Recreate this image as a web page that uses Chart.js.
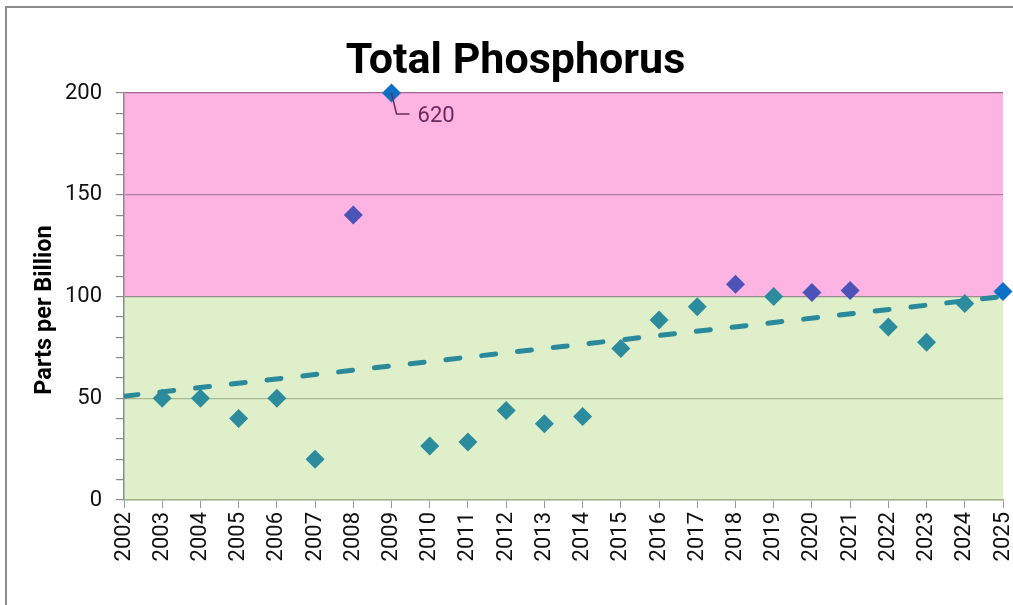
<!DOCTYPE html>
<html>
<head>
<meta charset="utf-8">
<script src="https://cdn.jsdelivr.net/npm/chart.js@4"></script>
<style>
    html, body { margin: 0; padding: 0; background: #fff; overflow: hidden; }
    #wrap { position: relative; width: 1013px; height: 605px; }
    #frame { position: absolute; left: 5px; top: 6px; right: -10px; bottom: -10px; border-left: 2px solid #8c8c8c; border-top: 2px solid #8c8c8c; }
    canvas { position: absolute; left: 0; top: 0; }
</style>
</head>
<body>
<div id="wrap">
    <div id="frame"></div>
    <canvas id="tpChart" width="1013" height="605"></canvas>
</div>
<script>
// ============================================
// DATA
// ============================================
const years = [2003, 2004, 2005, 2006, 2007, 2008, 2009, 2010, 2011, 2012, 2013, 2014,
               2015, 2016, 2017, 2018, 2019, 2020, 2021, 2022, 2023, 2024, 2025];
const phosphorus = [50, 50, 40, 50, 20, 140, 620, 26.5, 28.5, 44, 37.5, 41,
                    74.5, 88.5, 95, 106, 100, 102, 103, 85, 77.5, 96.5, 102.5];
const highlightYears = [2009, 2025];

// trend line end points
const trendYears = [2002, 2025];
const trendValues = [51, 100];

const yMax = 200;
const limit = 100;

// ============================================
// COLOURS
// ============================================
const TEAL = '#2c8c9e';
const PURPLE = '#4b52b8';
const BLUE = '#0c70c4';

function pointColor(year, v) {
    if (highlightYears.includes(year)) return BLUE;
    return v > limit ? PURPLE : TEAL;
}

// ============================================
// PLUGIN: bands, label, axis title
// ============================================
const bandsPlugin = {
    id: 'bands',
    beforeDraw(chart) {
        const { ctx, chartArea: a, scales: { y } } = chart;
        const yTop = y.getPixelForValue(yMax);
        const yMid = y.getPixelForValue(limit);
        const yBot = y.getPixelForValue(0);
        ctx.save();
        ctx.fillStyle = '#fdb4e3';
        ctx.fillRect(a.left, yTop, a.right - a.left, yMid - yTop);
        ctx.fillStyle = '#deefca';
        ctx.fillRect(a.left, yMid, a.right - a.left, yBot - yMid);
        ctx.restore();
    },
    afterDraw(chart) {
        const { ctx, scales: { x, y } } = chart;

        // off-scale value label
        phosphorus.forEach((v, i) => {
            if (v <= yMax) return;
            const px = x.getPixelForValue(years[i]);
            const py = y.getPixelForValue(yMax);
            ctx.save();
            ctx.strokeStyle = '#6a2b5f';
            ctx.lineWidth = 1.5;
            ctx.beginPath();
            ctx.moveTo(px, py);
            ctx.lineTo(px + 5, py + 21);
            ctx.lineTo(px + 18, py + 21);
            ctx.stroke();
            ctx.fillStyle = '#6a2b5f';
            ctx.font = '22px Roboto';
            ctx.textBaseline = 'middle';
            ctx.fillText(String(v), px + 26, py + 23);
            ctx.restore();
        });

        // y axis title
        ctx.save();
        ctx.translate(45, 310);
        ctx.rotate(-Math.PI / 2);
        ctx.font = 'bold 23.5px Roboto';
        ctx.fillStyle = '#000';
        ctx.textAlign = 'center';
        ctx.textBaseline = 'middle';
        ctx.fillText('Parts per Billion', 0, 0);
        ctx.restore();
    }
};

// ============================================
// CHART
// ============================================
const points = years.map((yr, i) => ({ x: yr, y: Math.min(phosphorus[i], yMax) }));
const colors = years.map((yr, i) => pointColor(yr, phosphorus[i]));
const trend = trendYears.map((yr, i) => ({ x: yr, y: trendValues[i] }));

new Chart(document.getElementById('tpChart'), {
    type: 'scatter',
    data: {
        datasets: [
            {
                label: 'Trend',
                data: trend,
                showLine: true,
                borderColor: '#2a899b',
                borderWidth: 5,
                borderDash: [14, 22],
                borderCapStyle: 'round',
                pointRadius: 0,
                order: 0,
            },
            {
                label: 'Total Phosphorus',
                data: points,
                pointStyle: 'rectRot',
                pointRadius: 9.5,
                pointBorderWidth: 0,
                backgroundColor: colors,
                pointBackgroundColor: colors,
                order: 1,
                clip: false,
            }
        ]
    },
    options: {
        responsive: false,
        animation: false,
        layout: { padding: { left: 28, right: 10, top: 0, bottom: 0 } },
        plugins: {
            legend: { display: false },
            tooltip: { enabled: false },
            title: {
                display: true,
                text: 'Total Phosphorus',
                color: '#000',
                font: { family: 'Roboto', size: 43, weight: 'bold', lineHeight: 1.2 },
                padding: { top: 36, bottom: 5.4 },
            }
        },
        scales: {
            x: {
                type: 'linear',
                min: 2002,
                max: 2025,
                afterFit: s => { s.height = 105; s.paddingLeft = 0; s.paddingRight = 0; },
                border: { display: true, color: '#a3b38b', width: 1.5 },
                grid: { drawOnChartArea: false, tickLength: 8, tickColor: '#9a9a9a' },
                ticks: {
                    stepSize: 1,
                    autoSkip: false,
                    minRotation: 90,
                    maxRotation: 90,
                    padding: 4,
                    color: '#111',
                    font: { family: 'Roboto', size: 22, lineHeight: 0.9 },
                    callback: v => String(v),
                }
            },
            y: {
                min: 0,
                max: yMax,
                afterFit: s => { s.width = 96; },
                border: { display: true, color: '#8a8a8a', width: 1.5 },
                grid: {
                    tickLength: 8,
                    tickColor: '#8a8a8a',
                    lineWidth: 1.2,
                    color: c => {
                        const v = c.tick.value;
                        if (v === 200) return '#a0648f';
                        if (v === 150) return '#b07aa8';
                        if (v === 100) return '#909090';
                        if (v === 50) return '#a8b890';
                        if (v === 0) return '#a3b38b';
                        return 'transparent';
                    }
                },
                ticks: {
                    stepSize: 10,
                    autoSkip: false,
                    padding: 14,
                    color: '#111',
                    font: { family: 'Roboto', size: 22 },
                    callback: v => (v % 50 === 0 ? String(v) : ''),
                }
            }
        }
    },
    plugins: [bandsPlugin]
});
</script>
</body>
</html>
